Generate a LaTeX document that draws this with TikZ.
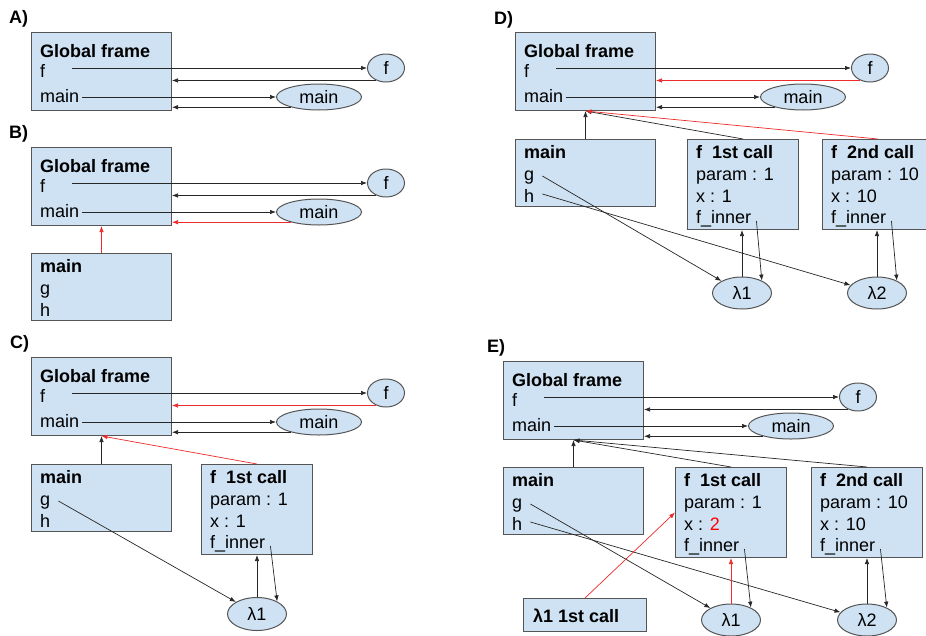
\documentclass[tikz,border=0pt]{standalone}
\usepackage{fontspec}
\setmainfont{Liberation Sans}
\usetikzlibrary{shapes.geometric,arrows.meta,calc}

\definecolor{boxfill}{HTML}{CFE2F3}
\definecolor{boxline}{HTML}{555555}
\definecolor{inkline}{HTML}{262626}
\definecolor{hotred}{HTML}{EE2A2A}

\tikzset{
  framebox/.style={draw=boxline, fill=boxfill, line width=1pt, inner sep=0pt, anchor=north west},
  obj/.style={ellipse, draw=boxline, fill=boxfill, line width=1pt, inner sep=0pt},
  lbl/.style={inner sep=0pt, anchor=base west},
  arr/.style={draw=inkline, line width=0.7pt, -{Latex[length=6pt,width=4.5pt]}},
  redarr/.style={arr, draw=hotred},
}

% Global frame with its two bindings (f, main) and the function objects.
% #1 name prefix, #2 top-left corner, #3 style of f's parent arrow, #4 style of main's parent arrow
\newcommand\globalgroup[4]{%
  \begin{scope}[shift={#2}]
    \node[framebox, minimum width=140pt, minimum height=78pt] (#1G) at (0,0) {};
    \node[lbl] at (9,25) {\textbf{Global frame}};
    \node[lbl] (#1Gf) at (9,45) {f};
    \node[lbl] (#1Gm) at (9,70) {main};
    \node[obj, minimum width=37pt, minimum height=28pt] (#1F) at (355,36) {f};
    \node[obj, minimum width=85pt, minimum height=26pt] (#1M) at (288,65) {main};
  \end{scope}
  \draw[arr] ([shift={(27,-9)}]#1Gf.base east) -- (#1F.west);
  \draw[#3] (#1F.232) -- (#1F.232 -| #1G.east);
  \draw[arr] ([shift={(3,-5)}]#1Gm.base east) -- (#1M.west);
  \draw[#4] (#1M.200) -- (#1M.200 -| #1G.east);
}

% Frame of main: #1 name prefix, #2 top-left corner
\newcommand\mainframebox[2]{%
  \begin{scope}[shift={#2}]
    \node[framebox, minimum width=140pt, minimum height=67pt] (#1B) at (0,0) {};
    \node[lbl] at (9,19) {\textbf{main}};
    \node[lbl] (#1Bg) at (9,41) {g};
    \node[lbl] (#1Bh) at (9,63) {h};
  \end{scope}
}

% Frame of a call of f: #1 node name, #2 top-left corner, #3 title, #4 param, #5 x
\newcommand\callframe[5]{%
  \begin{scope}[shift={#2}]
    \node[framebox, minimum width=111pt, minimum height=90pt] (#1) at (0,0) {};
    \node[lbl] at (9,19) {\textbf{#3}};
    \node[lbl] at (9,41) {param : #4};
    \node[lbl] at (9,63) {x : #5};
    \node[lbl] (#1i) at (9,84) {f\_inner};
  \end{scope}
}

\begin{document}
\begin{tikzpicture}[x=1pt, y=-1pt, font=\fontsize{18}{21}\selectfont]
\useasboundingbox (0,0) rectangle (926,635);
\clip (0,0) rectangle (926,635);

% ---------------- A ----------------
\node[lbl] (labA) at (9,23) {\textbf{A)}};
\globalgroup{A}{(31,32)}{arr}{arr}

% ---------------- B ----------------
\node[lbl] (labB) at (9,138) {\textbf{B)}};
\globalgroup{B}{(31,147)}{arr}{redarr}
\mainframebox{B}{(31,253)}
\draw[redarr] (BB.north) -- (BG.south);

% ---------------- C ----------------
\node[lbl] (labC) at (10,348) {\textbf{C)}};
\globalgroup{C}{(31,357)}{redarr}{arr}
\mainframebox{C}{(31,464)}
\callframe{C1}{(201,464)}{f\ \ 1st call}{1}{1}
\node[obj, minimum width=59pt, minimum height=33pt] (CL1) at (257,614) {λ1};
\draw[arr] (CB.north) -- (CG.south);
\draw[redarr] (C1.north) -- (CG.south);
\draw[arr] ([shift={(8,-4)}]CBg.base east) -- (CL1);
\draw[arr] (CL1.north) -- (CL1.north |- C1.south);
\draw[arr] ([shift={(5,-2)}]C1i.base east) -- (CL1.32);

% ---------------- D ----------------
\node[lbl] (labD) at (494,24) {\textbf{D)}};
\globalgroup{D}{(515,32)}{redarr}{arr}
\mainframebox{D}{(515,139)}
\callframe{D1}{(687,139)}{f\ \ 1st call}{1}{1}
\callframe{D2}{(822,139)}{f\ \ 2nd call}{10}{10}
\node[obj, minimum width=59pt, minimum height=32pt] (DL1) at (742,293) {λ1};
\node[obj, minimum width=59pt, minimum height=32pt] (DL2) at (877,293) {λ2};
\draw[arr] (DB.north) -- (DG.south);
\draw[arr] (D1.north) -- (DG.south);
\draw[redarr] (D2.north) -- (DG.south);
\draw[arr] ([shift={(8,-4)}]DBg.base east) -- (DL1);
\draw[arr] ([shift={(8,-8)}]DBh.base east) -- (DL2);
\draw[arr] (DL1.north) -- (DL1.north |- D1.south);
\draw[arr] ([shift={(5,-2)}]D1i.base east) -- (DL1.32);
\draw[arr] (DL2.north) -- (DL2.north |- D2.south);
\draw[arr] ([shift={(5,-2)}]D2i.base east) -- (DL2.32);

% ---------------- E ----------------
\node[lbl] (labE) at (487,352) {\textbf{E)}};
\globalgroup{E}{(503,361)}{arr}{arr}
\mainframebox{E}{(503,467)}
\callframe{E1}{(675,467)}{f\ \ 1st call}{1}{\textcolor{red}{2}}
\callframe{E2}{(811,467)}{f\ \ 2nd call}{10}{10}
\node[obj, minimum width=59pt, minimum height=32pt] (EL1) at (731,620) {λ1};
\node[obj, minimum width=59pt, minimum height=32pt] (EL2) at (867,620) {λ2};
\node[framebox, minimum width=123pt, minimum height=33pt] (Ecall) at (523,598) {};
\node[lbl] (EcallT) at (533,622) {\textbf{λ1 1st call}};
\draw[arr] (EB.north) -- (EG.south);
\draw[arr] (E1.north) -- (EG.south);
\draw[arr] (E2.north) -- (EG.south);
\draw[arr] ([shift={(8,-4)}]EBg.base east) -- (EL1);
\draw[arr] ([shift={(8,-8)}]EBh.base east) -- (EL2);
\draw[redarr] (EL1.north) -- (EL1.north |- E1.south);
\draw[arr] ([shift={(5,-2)}]E1i.base east) -- (EL1.32);
\draw[arr] (EL2.north) -- (EL2.north |- E2.south);
\draw[arr] ([shift={(5,-2)}]E2i.base east) -- (EL2.32);
\draw[redarr] (Ecall.north) -- (E1.west);
\end{tikzpicture}
\end{document}
